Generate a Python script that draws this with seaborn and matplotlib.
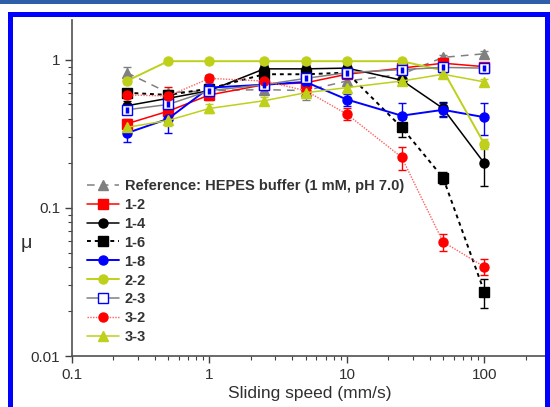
import numpy as np
import matplotlib
matplotlib.use("Agg")
import matplotlib.pyplot as plt
import matplotlib.patches as mpatches
import matplotlib.ticker as mticker
import seaborn as sns

### data
speed = [0.25, 0.5, 1, 2.5, 5, 10, 25, 50, 100]

mu_ref = [0.82, 0.60, 0.62, 0.63, 0.62, 0.72, 0.80, 1.04, 1.10]
err_ref = [0.07, 0.03, 0.03, 0.04, 0.08, 0.04, 0.04, 0.04, 0.04]
mu_12 = [0.37, 0.45, 0.58, 0.68, 0.70, 0.80, 0.88, 0.95, 0.90]
err_12 = [0.03, 0.04, 0.04, 0.04, 0.04, 0.04, 0.04, 0.04, 0.05]
mu_14 = [0.49, 0.55, 0.62, 0.87, 0.87, 0.88, 0.73, 0.47, 0.20]
err_14 = [0.04, 0.04, 0.05, 0.05, 0.05, 0.06, 0.05, 0.05, 0.06]
mu_16 = [0.60, 0.58, 0.64, 0.80, 0.80, 0.82, 0.35, 0.16, 0.027]
err_16 = [0.03, 0.03, 0.05, 0.06, 0.05, 0.06, 0.05, 0.015, 0.006]
mu_18 = [0.32, 0.40, 0.65, 0.68, 0.71, 0.54, 0.42, 0.46, 0.41]
err_18 = [0.04, 0.08, 0.04, 0.04, 0.04, 0.05, 0.09, 0.05, 0.10]
mu_22 = [0.72, 0.98, 0.98, 0.98, 0.98, 0.98, 0.98, 0.85, 0.27]
err_22 = [0.03, 0.03, 0.03, 0.03, 0.03, 0.03, 0.03, 0.03, 0.02]
mu_23 = [0.46, 0.50, 0.62, 0.68, 0.75, 0.82, 0.86, 0.89, 0.88]
err_23 = [0.03, 0.06, 0.04, 0.04, 0.04, 0.04, 0.05, 0.05, 0.06]
mu_32 = [0.58, 0.57, 0.75, 0.72, 0.62, 0.43, 0.22, 0.059, 0.040]
err_32 = [0.03, 0.09, 0.04, 0.04, 0.04, 0.04, 0.04, 0.008, 0.005]
mu_33 = [0.35, 0.39, 0.47, 0.53, 0.60, 0.65, 0.72, 0.80, 0.71]
err_33 = [0.03, 0.03, 0.03, 0.03, 0.03, 0.03, 0.04, 0.03, 0.03]

labels = ["Reference: HEPES buffer (1 mM, pH 7.0)", "1-2", "1-4", "1-6",
          "1-8", "2-2", "2-3", "3-2", "3-3"]

x_ticks = [0.1, 1, 10, 100]
x_ticklabels = ["0.1", "1", "10", "100"]
y_ticks = [0.01, 0.1, 1]
y_ticklabels = ["0.01", "0.1", "1"]

GREEN = "#bfd01a"

sns.set_style("ticks")
plt.rcParams["font.family"] = ["Liberation Sans", "DejaVu Sans"]

fig = plt.figure(figsize=(5.5, 4.07), dpi=100)
ax = fig.add_axes([72 / 550, 51 / 407, 476 / 550, 336 / 407])

# (mu, err, label, line colour, linestyle, lw, marker, marker face, marker edge)
series = [
    (mu_ref, err_ref, labels[0], "#808080", (0, (5, 4)), 1.1, "^", "#808080", "#808080"),
    (mu_12, err_12, labels[1], "#ff0000", "-", 1.1, "s", "#ff0000", "#ff0000"),
    (mu_14, err_14, labels[2], "#000000", "-", 1.1, "o", "#000000", "#000000"),
    (mu_16, err_16, labels[3], "#000000", (0, (2, 2)), 1.4, "s", "#000000", "#000000"),
    (mu_18, err_18, labels[4], "#0000ff", "-", 1.4, "o", "#0000ff", "#0000ff"),
    (mu_22, err_22, labels[5], GREEN, "-", 1.4, "o", GREEN, GREEN),
    (mu_23, err_23, labels[6], "#808080", "-", 1.1, "s", "#ffffff", "#0000ff"),
    (mu_32, err_32, labels[7], "#ff6060", (0, (1, 1)), 1.0, "o", "#ff0000", "#ff0000"),
    (mu_33, err_33, labels[8], GREEN, "-", 1.1, "^", GREEN, GREEN),
]

for mu, err, lab, col, ls, lw, mk, mfc, mec in series:
    ax.errorbar(speed, mu, yerr=err, fmt="none", ecolor=mec, elinewidth=1.0,
                capsize=3, capthick=1.0, zorder=2)
    sns.lineplot(x=speed, y=mu, ax=ax, color=col, linestyle=ls, linewidth=lw,
                 marker=mk, markersize=6.5, markerfacecolor=mfc,
                 markeredgecolor=mec, markeredgewidth=1.0, label=lab,
                 sort=False, zorder=3)
    if mfc == "#ffffff":
        # half filled square of 2-3
        ax.plot(speed, mu, linestyle="none", marker="|", markersize=5,
                markeredgewidth=2.5, color=mec, zorder=4)

ax.set_xscale("log")
ax.set_yscale("log")
ax.set_xlim(0.1, 290)
ax.set_ylim(0.01, 1.86)
ax.set_xticks(x_ticks)
ax.set_xticklabels(x_ticklabels)
ax.set_yticks(y_ticks)
ax.set_yticklabels(y_ticklabels)
ax.xaxis.set_minor_locator(mticker.LogLocator(base=10, subs=np.arange(2, 10)))
ax.yaxis.set_minor_locator(mticker.LogLocator(base=10, subs=np.arange(2, 10)))
ax.xaxis.set_minor_formatter(mticker.NullFormatter())
ax.yaxis.set_minor_formatter(mticker.NullFormatter())
ax.tick_params(axis="both", which="major", direction="out", length=5,
               width=1.0, colors="#404040", labelsize=11, labelcolor="#303030")
ax.tick_params(axis="both", which="minor", direction="out", length=3,
               width=0.8, colors="#404040")
sns.despine(ax=ax)
for s in ["left", "bottom"]:
    ax.spines[s].set_color("#505050")
    ax.spines[s].set_linewidth(1.2)

ax.set_xlabel("Sliding speed (mm/s)", fontsize=12.5, color="#303030", labelpad=3)
ax.set_ylabel("\u03bc", fontsize=14, rotation=0, color="#303030")
ax.yaxis.set_label_coords(-0.095, 0.31)

leg = ax.legend(loc="upper left", bbox_to_anchor=(0.02, 0.545), frameon=False,
                borderaxespad=0, handlelength=2.2, handletextpad=0.35,
                labelspacing=0.34, prop={"weight": "bold", "size": 10.5})
for t in leg.get_texts():
    t.set_color("#333333")

# blue screenshot frame
fig.patches.append(mpatches.Rectangle(
    (9.5 / 550, -0.05), 538 / 550, (407 - 13.5) / 407 + 0.05,
    transform=fig.transFigure, fill=False, edgecolor="#0000ff",
    linewidth=3.6, zorder=10))
fig.patches.append(mpatches.Rectangle(
    (0, 1 - 4 / 407), 1, 4 / 407, transform=fig.transFigure,
    facecolor="#2f5fa8", edgecolor="none", zorder=10))

fig.savefig("out.png", dpi=100)
plt.close(fig)
